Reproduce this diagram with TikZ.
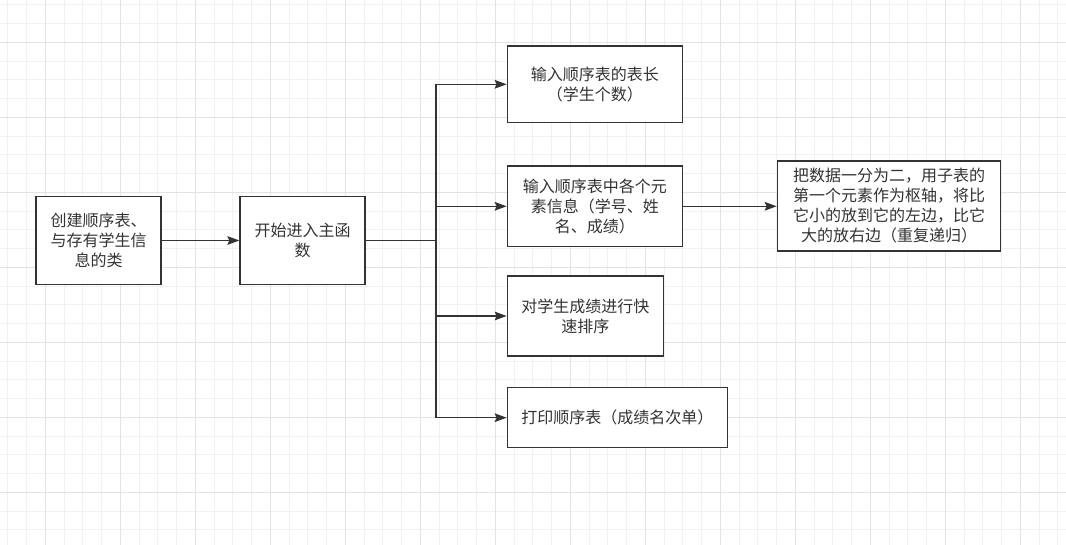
\documentclass[tikz,border=0pt]{standalone}
\usepackage{fontspec}
\setmainfont{Noto Sans CJK SC}
\usetikzlibrary{arrows.meta}
\definecolor{ink}{HTML}{333333}
\definecolor{gridminor}{HTML}{F1F1F1}
\definecolor{gridmajor}{HTML}{E3E3E3}
\tikzset{
  box/.style={draw=ink, line width=1pt, fill=white, inner sep=0pt, align=center,
    text=ink, font=\fontsize{12pt}{15pt}\selectfont},
  arr/.style={draw=ink, line width=1pt, -{Stealth[length=9pt,width=6.5pt,inset=1.5pt]}},
  conn/.style={draw=ink, line width=1pt},
  minorline/.style={draw=gridminor, line width=0.8pt},
  majorline/.style={draw=gridmajor, line width=0.8pt},
}
\begin{document}
\begin{tikzpicture}[x=0.75pt,y=-0.75pt]
\useasboundingbox (0,0) rectangle (1066,545);
\fill[white] (0,0) rectangle (1066,545);
% grid
\foreach \i in {0,...,56} \draw[minorline] ({7.8+18.75*\i},0) -- ({7.8+18.75*\i},545);
\foreach \j in {0,...,29} \draw[minorline] (0,{4.8+18.75*\j}) -- (1066,{4.8+18.75*\j});
\foreach \i in {0,...,14} \draw[majorline] ({45.3+75*\i},0) -- ({45.3+75*\i},545);
\foreach \j in {0,...,7} \draw[majorline] (0,{42.3+75*\j}) -- (1066,{42.3+75*\j});
% nodes
\node[box, minimum width=93.75pt, minimum height=65.7pt] (b1) at (98.5,240.5) {创建顺序表、\\与存有学生信\\息的类};
\node[box, minimum width=93.75pt, minimum height=65.7pt] (b2) at (302.5,240.5) {开始进入主函\\数};
\node[box, minimum width=131.25pt, minimum height=57.5pt] (b3) at (594.8,84.3) {输入顺序表的表长\\（学生个数）};
\node[box, minimum width=131.25pt, minimum height=60.5pt] (b4) at (594.8,206.3) {输入顺序表中各个元\\素信息（学号、姓\\名、成绩）};
\node[box, minimum width=117pt, minimum height=60pt] (b5) at (585.3,316) {对学生成绩进行快\\速排序};
\node[box, minimum width=165pt, minimum height=45pt] (b6) at (617.3,417.7) {打印顺序表（成绩名次单）};
\node[box, minimum width=167.5pt, minimum height=67.5pt] (b7) at (889,206) {把数据一分为二，用子表的\\第一个元素作为枢轴，将比\\它小的放到它的左边，比它\\大的放右边（重复递归）};
% connectors
\coordinate (tr) at (436,240.5);
\draw[arr] (b1) -- (b2);
\draw[conn] (b2.east) -- (tr);
\draw[arr] (tr) |- (b3);
\draw[arr] (tr) |- (b4);
\draw[arr] (tr) |- (b5);
\draw[arr] (tr) |- (b6);
\draw[arr] (b4.east) -- (b7.west |- b4.east);
\end{tikzpicture}
\end{document}
